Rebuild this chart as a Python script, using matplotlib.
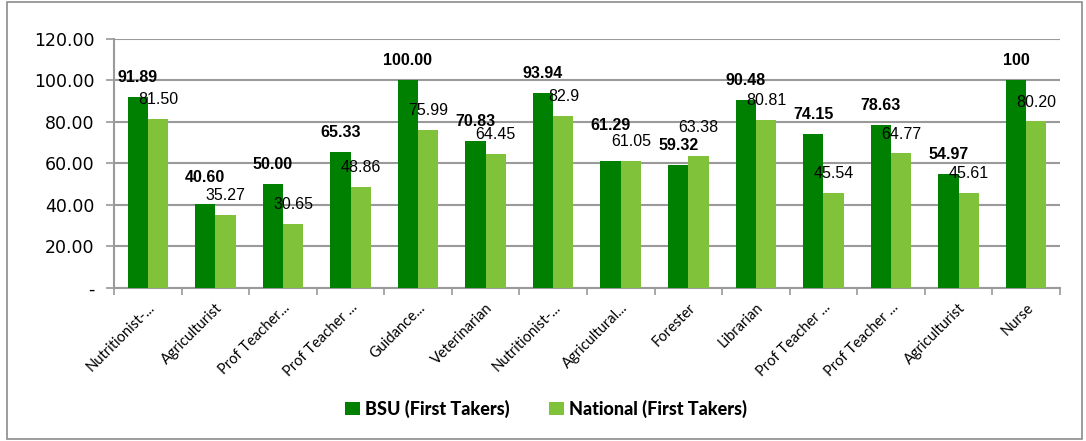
import numpy as np
import matplotlib.pyplot as plt
from matplotlib.patches import Rectangle

# data
categories = ["Nutritionist-...", "Agriculturist", "Prof Teacher...", "Prof Teacher ...",
              "Guidance...", "Veterinarian", "Nutritionist-...", "Agricultural...",
              "Forester", "Librarian", "Prof Teacher ...", "Prof Teacher ...",
              "Agriculturist", "Nurse"]
bsu = [91.89, 40.60, 50.00, 65.33, 100.00, 70.83, 93.94, 61.29, 59.32, 90.48, 74.15, 78.63, 54.97, 100]
national = [81.50, 35.27, 30.65, 48.86, 75.99, 64.45, 82.9, 61.05, 63.38, 80.81, 45.54, 64.77, 45.61, 80.20]
bsu_labels = ["91.89", "40.60", "50.00", "65.33", "100.00", "70.83", "93.94", "61.29",
              "59.32", "90.48", "74.15", "78.63", "54.97", "100"]
national_labels = ["81.50", "35.27", "30.65", "48.86", "75.99", "64.45", "82.9", "61.05",
                   "63.38", "80.81", "45.54", "64.77", "45.61", "80.20"]
yticks = [0, 20, 40, 60, 80, 100, 120]
ytick_labels = ["-", "20.00", "40.00", "60.00", "80.00", "100.00", "120.00"]

dark = "#008000"
light = "#80C33A"
grid_c = "#9A9A9A"

# a few labels were nudged up by hand in the original (points)
bsu_lift = {1: 5, 7: 11}
nat_lift = {8: 7}

fig = plt.figure(figsize=(10.86, 4.41), dpi=100)
ax = fig.add_axes([0.105, 0.347, 0.871, 0.565])

x = np.arange(len(categories))
w = 0.3
b1 = ax.bar(x - w / 2, bsu, w, color=dark, label="BSU (First Takers)", zorder=3)
b2 = ax.bar(x + w / 2, national, w, color=light, label="National (First Takers)", zorder=3)

for i, (rect, lab) in enumerate(zip(b1, bsu_labels)):
    ax.annotate(lab, (rect.get_x() + rect.get_width() / 2, rect.get_height()),
                xytext=(0, 14 + bsu_lift.get(i, 0)), textcoords="offset points",
                ha="center", va="center", fontsize=11.5, fontweight="bold",
                family="Liberation Sans", zorder=5)
for i, (rect, lab) in enumerate(zip(b2, national_labels)):
    ax.annotate(lab, (rect.get_x() + rect.get_width() / 2, rect.get_height()),
                xytext=(0, 14 + nat_lift.get(i, 0)), textcoords="offset points",
                ha="center", va="center", fontsize=11.5, family="Liberation Sans", zorder=5)

ax.set_xlim(-0.5, len(categories) - 0.5)
ax.set_ylim(0, 120)
ax.set_yticks(yticks)
ax.set_yticklabels(ytick_labels, fontsize=12.5, family="DejaVu Sans")
ax.yaxis.grid(True, color=grid_c, linewidth=1.5, zorder=0)
ax.tick_params(axis="y", length=6, color=grid_c, width=1.2, pad=8)

ax.set_xticks(x)
ax.set_xticklabels(categories, rotation=45, ha="right", rotation_mode="anchor",
                   fontsize=10.5, family="Lato")
ax.tick_params(axis="x", which="major", length=0, pad=9)
ax.set_xticks(np.arange(-0.5, len(categories), 1), minor=True)
ax.tick_params(axis="x", which="minor", length=5, color=grid_c, width=1.2)

for s in ["top", "right"]:
    ax.spines[s].set_visible(False)
for s in ["left", "bottom"]:
    ax.spines[s].set_color(grid_c)
    ax.spines[s].set_linewidth(1.5)

fig.legend(loc="center", bbox_to_anchor=(0.503, 0.073), ncol=2, frameon=False,
           prop={"family": "Lato", "weight": "black", "size": 13},
           handlelength=0.8, handleheight=0.8, handletextpad=0.3, columnspacing=2.2)

fig.patches.append(Rectangle((0.006, 0.005), 0.99, 0.99, transform=fig.transFigure,
                             fill=False, edgecolor="#8C8C8C", linewidth=1.2))

fig.savefig("out.png", dpi=100)
